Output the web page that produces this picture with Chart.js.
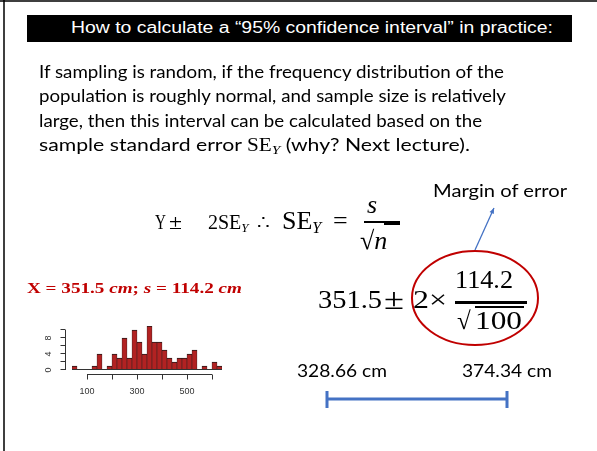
<!DOCTYPE html>
<html>
<head>
<meta charset="utf-8">
<title>How to calculate a 95% confidence interval</title>
<script src="https://cdn.jsdelivr.net/npm/chart.js@4"></script>
<style>
  html, body { margin: 0; padding: 0; background: #fff; }
  #slide { position: relative; width: 597px; height: 451px; overflow: hidden; }
  #hist { position: absolute; left: 0; top: 0; }
  .t { position: absolute; left: 0; top: 0; white-space: nowrap; transform-origin: 0 0; line-height: 1.2; }
  .sans { font-family: Lato, "Open Sans", sans-serif; font-size: 18px; color: #000; }
  .math { font-family: "Liberation Serif", "DejaVu Serif", serif; color: #000; }
  .rule { position: absolute; background: #000; }
  .sub { font-style: italic; position: relative; top: 0.25em; }
</style>
</head>
<body>
<div id="slide">
  <canvas id="hist" width="597" height="451"></canvas>

  <!-- title bar -->
  <div class="rule" style="left:27px;top:15px;width:545px;height:27px;"></div>
  <div class="t" data-x="71" data-y="33" data-w="482" style="font:16px 'Liberation Sans',Arial,sans-serif;color:#fff;">How to calculate a “95% confidence interval” in practice:</div>

  <!-- paragraph -->
  <div class="t sans" data-x="39" data-y="78" data-w="465">If sampling is random, if the frequency distribution of the</div>
  <div class="t sans" data-x="39" data-y="102" data-w="467">population is roughly normal, and sample size is relatively</div>
  <div class="t sans" data-x="39" data-y="127" data-w="443">large, then this interval can be calculated based on the</div>
  <div class="t sans" data-x="39" data-y="151" data-w="431">sample standard error <span class="math">SE<span class="sub" style="font-size:13px">Y</span></span> (why? Next lecture).</div>

  <!-- formula: Y ± 2SE_Y ∴ SE_Y = s / √n -->
  <div class="t math" data-x="155" data-y="229" data-w="11" style="font-size:20px">Y</div>
  <div class="t math" data-x="169" data-y="229" data-w="13" style="font-size:20px">±</div>
  <div class="t math" data-x="208" data-y="229" style="font-size:20px">2SE<span class="sub" style="font-size:13px">Y</span></div>
  <div class="t math" data-x="257" data-y="229" style="font-size:20px">∴</div>
  <div class="t math" data-x="282" data-y="229" style="font-size:26px">SE<span class="sub" style="font-size:16px">Y</span></div>
  <div class="t math" data-x="333" data-y="229" style="font-size:26px">=</div>
  <div class="t math" data-x="367" data-y="213" style="font-size:26px;font-style:italic">s</div>
  <div class="rule" style="left:364px;top:221px;width:36px;height:2px;"></div>
  <div class="rule" style="left:384px;top:223px;width:16px;height:1.5px;"></div>
  <div class="t math" data-x="360" data-y="249" style="font-size:26px">√<i>n</i></div>

  <div class="t sans" data-x="433" data-y="197" data-w="134">Margin of error</div>

  <!-- sample values -->
  <div class="t math" data-x="27" data-y="293" data-w="215" style="font-size:15px;font-weight:bold;color:#c00000">X = 351.5 <i>cm</i>; <i>s</i> = 114.2 <i>cm</i></div>

  <!-- formula: 351.5 ± 2 × 114.2 / √100 -->
  <div class="t math" data-x="318" data-y="308" data-w="64" style="font-size:25px">351.5</div>
  <div class="t math" data-x="384" data-y="309" data-w="20" style="font-size:29px">±</div>
  <div class="t math" data-x="413" data-y="308" data-w="34" style="font-size:25px">2×</div>
  <div class="t math" data-x="455" data-y="288" data-w="58" style="font-size:25px">114.2</div>
  <div class="rule" style="left:455px;top:301px;width:72px;height:2.5px;"></div>
  <div class="t math" data-x="457" data-y="329" style="font-size:25px">√</div>
  <div class="rule" style="left:475px;top:306px;width:49px;height:1.5px;"></div>
  <div class="t math" data-x="475" data-y="329" data-w="47" style="font-size:25px">100</div>

  <!-- interval bounds -->
  <div class="t sans" id="lowLabel" data-x="297" data-y="377" data-w="90"></div>
  <div class="t sans" id="highLabel" data-x="462" data-y="377" data-w="90"></div>
</div>

<script>
// histogram of the sample (n = 100), bins of width 20
const binStarts = [40, 60, 80, 100, 120, 140, 160, 180, 200, 220,
                   240, 260, 280, 300, 320, 340, 360, 380, 400, 420,
                   440, 460, 480, 500, 520, 540, 560, 580, 600, 620];
const binWidth = 20;
const counts = [1, 0, 0, 0, 1, 4, 0, 1, 4, 3,
                8, 3, 10, 7, 4, 11, 7, 7, 5, 3,
                2, 3, 3, 4, 5, 0, 1, 0, 2, 1];

// R style axis ticks
const xTicks = [100, 200, 300, 400, 500, 600];
const xTickLabels = ['100', '', '300', '', '500', ''];
const yTicks = [0, 2, 4, 6, 8, 10];
const yTickLabels = ['0', '', '4', '', '8', ''];

// confidence interval bounds
const ciLow = 328.66;
const ciHigh = 374.34;

document.getElementById('lowLabel').textContent = ciLow + ' cm';
document.getElementById('highLabel').textContent = ciHigh + ' cm';

// axes drawn like base R: detached lines, outward ticks, rotated y labels
const rAxes = {
    id: 'rAxes',
    afterDatasetsDraw(chart) {
        const { ctx, scales: { x, y } } = chart;
        ctx.save();
        ctx.strokeStyle = '#333';
        ctx.fillStyle = '#333';
        ctx.lineWidth = 1;
        ctx.font = '9px "Liberation Sans", Arial, sans-serif';

        // empty bins show as a line on zero
        const y0 = y.getPixelForValue(0);
        ctx.beginPath();
        ctx.moveTo(x.getPixelForValue(binStarts[0]), y0 - 0.5);
        ctx.lineTo(x.getPixelForValue(binStarts[binStarts.length - 1] + binWidth), y0 - 0.5);
        ctx.stroke();

        // x axis
        const ay = Math.round(y0) + 4.5;
        ctx.beginPath();
        ctx.moveTo(x.getPixelForValue(xTicks[0]), ay);
        ctx.lineTo(x.getPixelForValue(xTicks[xTicks.length - 1]), ay);
        xTicks.forEach(v => {
            const px = Math.round(x.getPixelForValue(v)) + 0.5;
            ctx.moveTo(px, ay);
            ctx.lineTo(px, ay + 5);
        });
        ctx.stroke();
        ctx.textAlign = 'center';
        ctx.textBaseline = 'middle';
        xTicks.forEach((v, i) => {
            if (xTickLabels[i]) ctx.fillText(xTickLabels[i], x.getPixelForValue(v), ay + 17);
        });

        // y axis
        const ax = Math.round(x.getPixelForValue(binStarts[0])) - 6.5;
        ctx.beginPath();
        ctx.moveTo(ax, y.getPixelForValue(yTicks[0]));
        ctx.lineTo(ax, y.getPixelForValue(yTicks[yTicks.length - 1]));
        yTicks.forEach(v => {
            const py = Math.round(y.getPixelForValue(v)) - 0.5;
            ctx.moveTo(ax, py);
            ctx.lineTo(ax - 5, py);
        });
        ctx.stroke();
        yTicks.forEach((v, i) => {
            if (!yTickLabels[i]) return;
            ctx.save();
            ctx.translate(ax - 17, y.getPixelForValue(v));
            ctx.rotate(-Math.PI / 2);
            ctx.fillText(yTickLabels[i], 0, 0);
            ctx.restore();
        });
        ctx.restore();
    }
};

// slide decorations: frame, circled margin of error, arrow, interval bar
const slideDecor = {
    id: 'slideDecor',
    afterDraw(chart) {
        const ctx = chart.ctx;
        ctx.save();
        ctx.strokeStyle = '#000';
        ctx.lineWidth = 1.5;
        ctx.beginPath();
        ctx.moveTo(0, 1); ctx.lineTo(597, 1);
        ctx.moveTo(4, 0); ctx.lineTo(4, 451);
        ctx.stroke();

        ctx.strokeStyle = '#c00000';
        ctx.lineWidth = 2;
        ctx.beginPath();
        ctx.ellipse(475, 298, 63, 47, 0, 0, Math.PI * 2);
        ctx.stroke();

        // arrow to the label
        ctx.strokeStyle = '#4472c4';
        ctx.fillStyle = '#4472c4';
        ctx.lineWidth = 1.3;
        const x1 = 475, y1 = 250, x2 = 494, y2 = 208;
        const ang = Math.atan2(y2 - y1, x2 - x1);
        ctx.beginPath();
        ctx.moveTo(x1, y1); ctx.lineTo(x2, y2);
        ctx.stroke();
        ctx.beginPath();
        ctx.moveTo(x2, y2);
        ctx.lineTo(x2 - 6 * Math.cos(ang - 0.4), y2 - 6 * Math.sin(ang - 0.4));
        ctx.lineTo(x2 - 6 * Math.cos(ang + 0.4), y2 - 6 * Math.sin(ang + 0.4));
        ctx.closePath();
        ctx.fill();

        // interval bar
        ctx.lineWidth = 3;
        ctx.beginPath();
        ctx.moveTo(327, 399); ctx.lineTo(507, 399);
        ctx.moveTo(327, 391); ctx.lineTo(327, 408);
        ctx.moveTo(507, 391); ctx.lineTo(507, 408);
        ctx.stroke();
        ctx.restore();
    }
};

const config = {
    type: 'bar',
    data: {
        datasets: [{
            label: 'Frequency',
            data: binStarts.map((b, i) => ({ x: b + binWidth / 2, y: counts[i] })),
            backgroundColor: '#b22222',
            borderColor: '#2a1a1a',
            borderWidth: { top: 1, left: 0.6, right: 0.6, bottom: 0 },
            borderSkipped: false,
            barPercentage: 1,
            categoryPercentage: 1
        }]
    },
    options: {
        responsive: false,
        animation: false,
        devicePixelRatio: 1,
        layout: { padding: { left: 72, right: 375, top: 326, bottom: 81 } },
        plugins: {
            legend: { display: false },
            tooltip: { enabled: false }
        },
        scales: {
            x: {
                type: 'linear',
                min: binStarts[0],
                max: binStarts[binStarts.length - 1] + binWidth,
                offset: false,
                display: false
            },
            y: {
                min: 0,
                max: 11,
                display: false
            }
        }
    },
    plugins: [rAxes, slideDecor]
};

const histChart = new Chart(document.getElementById('hist'), config);

// put each text block on its baseline, stretched to the measured width
document.querySelectorAll('.t').forEach(el => {
    const mark = document.createElement('span');
    mark.style.cssText = 'display:inline-block;width:0;height:0;vertical-align:baseline';
    el.appendChild(mark);
    const box = el.getBoundingClientRect();
    const off = mark.getBoundingClientRect().top - box.top;
    el.style.left = el.dataset.x + 'px';
    el.style.top = (el.dataset.y - off) + 'px';
    if (el.dataset.w) {
        el.style.transform = 'scaleX(' + (el.dataset.w / box.width) + ')';
    }
});
</script>
</body>
</html>
